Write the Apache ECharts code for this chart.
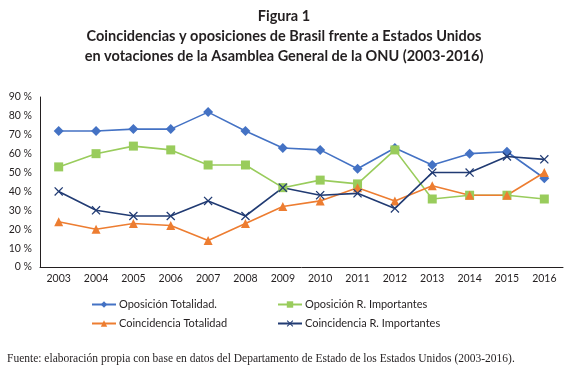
<!DOCTYPE html>
<html><head><meta charset="utf-8">
<script src="https://cdn.jsdelivr.net/npm/echarts@6/dist/echarts.min.js"></script>
<style>html,body{margin:0;padding:0;background:#fff}#c{width:568px;height:371px}</style>
</head><body><div id="c"></div>
<script>
const years = ['2003','2004','2005','2006','2007','2008','2009','2010','2011','2012','2013','2014','2015','2016'];
const oposicionTotalidad = [72,72,73,73,82,72,63,62,52,63,54,60,61,47];
const oposicionImportantes = [53,60,64,62,54,54,42,46,44,62,36,38,38,36];
const coincidenciaTotalidad = [24,20,23,22,14,23,32,35,42,35,43,38,38,50];
const coincidenciaImportantes = [40,30,27,27,35,27,42,38,39,31,50,50,58.5,57];
const yTicks = [0,10,20,30,40,50,60,70,80,90];

const xPath = 'path://M0,1L1,0L5,4L9,0L10,1L6,5L10,9L9,10L5,6L1,10L0,9L4,5Z';
const chart = echarts.init(document.getElementById('c'));
const mk = (name, data, color, symbol, size) => ({
  name, type:'line', data, symbol, symbolSize:size, color,
  lineStyle:{width:1.6,color}, itemStyle:{color}, z: 2
});
const tStyle = {fontFamily:'Lato',fontWeight:'bold',fontSize:14.5,color:'#231f20'};
chart.setOption({
  animation:false,
  title:[
    {text:'Figura 1', left:'center', top:4, textStyle:tStyle},
    {text:'Coincidencias y oposiciones de Brasil frente a Estados Unidos', left:'center', top:24, textStyle:tStyle},
    {text:'en votaciones de la Asamblea General de la ONU (2003-2016)', left:'center', top:44, textStyle:tStyle},
    {text:'Fuente: elaboración propia con base en datos del Departamento de Estado de los Estados Unidos (2003-2016).', left:2, top:348, textStyle:{fontFamily:'Liberation Serif',fontWeight:'normal',fontSize:11.5,color:'#231f20'}}
  ],
  grid:{left:40,right:5,top:97,bottom:104},
  xAxis:{type:'category',data:years,boundaryGap:true,
    axisLine:{lineStyle:{color:'#231f20',width:1}},axisTick:{show:false},
    axisLabel:{fontFamily:'Lato',fontSize:10.5,color:'#231f20',margin:6}},
  yAxis:{type:'value',min:0,max:90,interval:10,
    axisLine:{show:true,lineStyle:{color:'#231f20',width:1}},axisTick:{show:false},splitLine:{show:false},
    axisLabel:{fontFamily:'Lato',fontSize:10.5,color:'#231f20',margin:8,formatter:v=>v+' %'}},
  legend:[
    {orient:'vertical',left:86,top:294,itemWidth:24,itemHeight:8,itemGap:8,
     data:['Oposición Totalidad.','Coincidencia Totalidad'],textStyle:{fontFamily:'Lato',fontSize:11,color:'#231f20',padding:[0,0,0,-2]}},
    {orient:'vertical',left:272,top:294,itemWidth:24,itemHeight:8,itemGap:8,
     data:['Oposición R. Importantes','Coincidencia R. Importantes'],textStyle:{fontFamily:'Lato',fontSize:11,color:'#231f20',padding:[0,0,0,-2]}}
  ],
  series:[
    mk('Oposición Totalidad.', oposicionTotalidad, '#4472c4', 'diamond', 10),
    mk('Oposición R. Importantes', oposicionImportantes, '#99cc5c', 'rect', 9),
    mk('Coincidencia Totalidad', coincidenciaTotalidad, '#ed7d31', 'triangle', 9),
    mk('Coincidencia R. Importantes', coincidenciaImportantes, '#213b73', xPath, 9)
  ]
});
</script></body></html>
